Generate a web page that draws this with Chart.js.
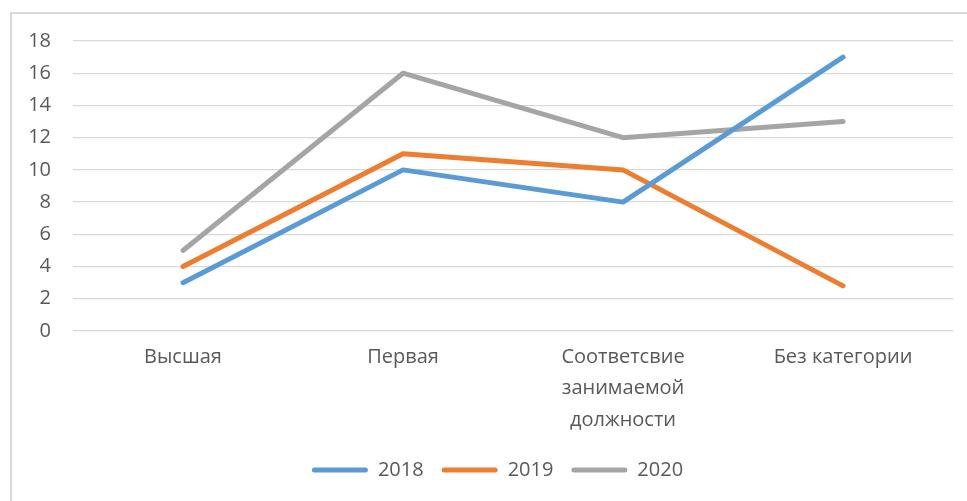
<!DOCTYPE html>
<html>
<head>
<meta charset="utf-8">
<script src="https://cdn.jsdelivr.net/npm/chart.js@4"></script>
<style>
  html, body { margin: 0; padding: 0; background: #fff; overflow: hidden; }
  #frame { position: absolute; left: 10px; top: 12px; width: 2000px; height: 2000px; border: 2px solid #d9d9d9; box-sizing: border-box; }
  #wrap { position: absolute; left: 0; top: 0; width: 967px; height: 501px; }
</style>
</head>
<body>
<div id="frame"></div>
<div id="wrap"><canvas id="chart" width="967" height="501"></canvas></div>
<script>
const categories = ['Высшая', 'Первая', ['Соответсвие', 'занимаемой', 'должности'], 'Без категории'];
const years = ['2018', '2019', '2020'];
const values2018 = [3, 10, 8, 17];
const values2019 = [4, 11, 10, 2.8];
const values2020 = [5, 16, 12, 13];
const yTicks = [0, 2, 4, 6, 8, 10, 12, 14, 16, 18];

const colors = ['#5b9bd5', '#ed7d31', '#a5a5a5'];
const font = { family: '"Open Sans", sans-serif', size: 20 };

function line(label, data, color) {
  return {
    label, data,
    borderColor: color, backgroundColor: color,
    borderWidth: 5, borderCapStyle: 'round', borderJoinStyle: 'round',
    pointRadius: 0, tension: 0, fill: false
  };
}

// legend sits a bit right of the canvas centre in the original
const shiftLegend = {
  id: 'shiftLegend',
  afterLayout(chart) {
    chart.legend.left += 21;
    chart.legend.right += 21;
  }
};

new Chart(document.getElementById('chart'), {
  type: 'line',
  data: {
    labels: categories,
    datasets: [
      line(years[0], values2018, colors[0]),
      line(years[1], values2019, colors[1]),
      line(years[2], values2020, colors[2])
    ]
  },
  plugins: [shiftLegend],
  options: {
    responsive: false,
    maintainAspectRatio: false,
    animation: false,
    layout: { padding: { left: 0, top: 41, right: 14, bottom: 11 } },
    plugins: {
      tooltip: { enabled: false },
      legend: {
        position: 'bottom',
        labels: {
          color: '#595959', font,
          boxWidth: 56, boxHeight: 5,
          useBorderRadius: true, borderRadius: 2.5,
          padding: 18,
          generateLabels: chart => Chart.defaults.plugins.legend.labels.generateLabels(chart)
            .map(item => ({ ...item, lineWidth: 0 }))
        }
      }
    },
    scales: {
      x: {
        offset: true,
        grid: { display: false },
        border: { display: false },
        ticks: { color: '#595959', font: { ...font, lineHeight: 1.58 }, maxRotation: 0, autoSkip: false, padding: 2 },
        afterFit: s => { s.height = 111; }
      },
      y: {
        min: 0, max: 18,
        afterBuildTicks: s => { s.ticks = yTicks.map(v => ({ value: v })); },
        grid: { color: '#d9d9d9', lineWidth: 1.3, drawTicks: false },
        border: { display: false },
        ticks: { color: '#595959', font, padding: 22 },
        afterFit: s => { s.width = 73; }
      }
    }
  }
});
</script>
</body>
</html>
